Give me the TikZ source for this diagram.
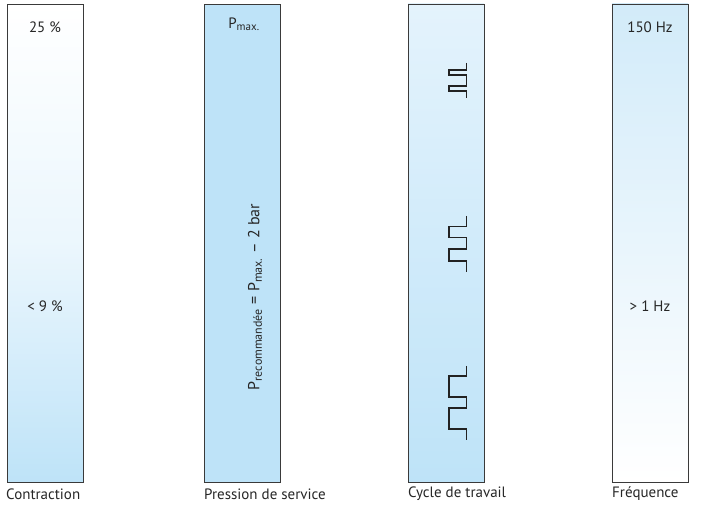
\documentclass[tikz,border=0pt]{standalone}
\usepackage{fontspec}
\setmainfont{PT Sans}
\definecolor{barblue}{HTML}{BEE3F8}
\definecolor{barlight}{HTML}{E4F3FC}
\definecolor{freqtop}{HTML}{D2EBF9}
\definecolor{edge}{HTML}{3A3A3A}
\definecolor{wave}{HTML}{222222}
\newcommand{\subsc}[1]{\textsubscript{\fontsize{11}{12}\selectfont #1}}
\newcommand{\subscb}[1]{\textsubscript{\fontsize{12}{13}\selectfont #1}}
\begin{document}
\begin{tikzpicture}[x=1pt,y=-1pt,
  barbox/.style={draw=edge,line width=0.9pt},
  lbl/.style={font=\fontsize{15}{17}\selectfont,text=black!85,inner sep=0pt},
  rlbl/.style={font=\fontsize{16}{18}\selectfont,text=black!85,inner sep=0pt},
  caption/.style={font=\fontsize{15}{17}\selectfont,text=black!85,inner sep=0pt,anchor=west},
  wavestyle/.style={draw=wave,line width=1.5pt,line join=miter}]
\useasboundingbox (0,0) rectangle (713,510);
% bars
\shade[top color=white,bottom color=barblue,middle color=white!70!barblue] (7,4) rectangle (83,482);
\draw[barbox] (7,4) rectangle (83,482);
\fill[barblue] (204,4) rectangle (280,482);
\draw[barbox] (204,4) rectangle (280,482);
\shade[top color=barlight,bottom color=barblue] (408,4) rectangle (484,482);
\draw[barbox] (408,4) rectangle (484,482);
\shade[top color=freqtop,bottom color=white] (612,4) rectangle (688,482);
\draw[barbox] (612,4) rectangle (688,482);
% labels in bars
\node[lbl] (c1) at (45,27) {25 \%};
\node[lbl] (c2) at (45,306) {< 9 \%};
\node[lbl] (p1) at (244,24) {P\subsc{max.}};
\node[rlbl,rotate=90] (p2) at (255,297) {P\subscb{recommandée} = P\subscb{max.} – 2 bar};
\node[lbl] (f1) at (650,27) {150 Hz};
\node[lbl] (f2) at (650,306) {> 1 Hz};
% captions
\node[caption] (t1) at (6,494) {Contraction};
\node[caption] (t2) at (204,494) {Pression de service};
\node[caption] (t3) at (408,494) {Cycle de travail};
\node[caption] (t4) at (612,494) {Fréquence};
% waves
\draw[wavestyle] (466.5,63)--(466.5,70)--(449,70)--(449,75)--(466.5,75)--(466.5,86)--(449,86)--(449,91)--(466.5,91)--(466.5,98);
\draw[wavestyle] (466.5,216)--(466.5,226.7)--(449,226.7)--(449,237.7)--(466.5,237.7)--(466.5,249)--(449,249)--(449,261)--(466.5,261)--(466.5,272);
\draw[wavestyle] (466.5,366)--(466.5,376)--(449,376)--(449,397)--(466.5,397)--(466.5,408)--(449,408)--(449,429)--(466.5,429)--(466.5,440);
\end{tikzpicture}
\end{document}
